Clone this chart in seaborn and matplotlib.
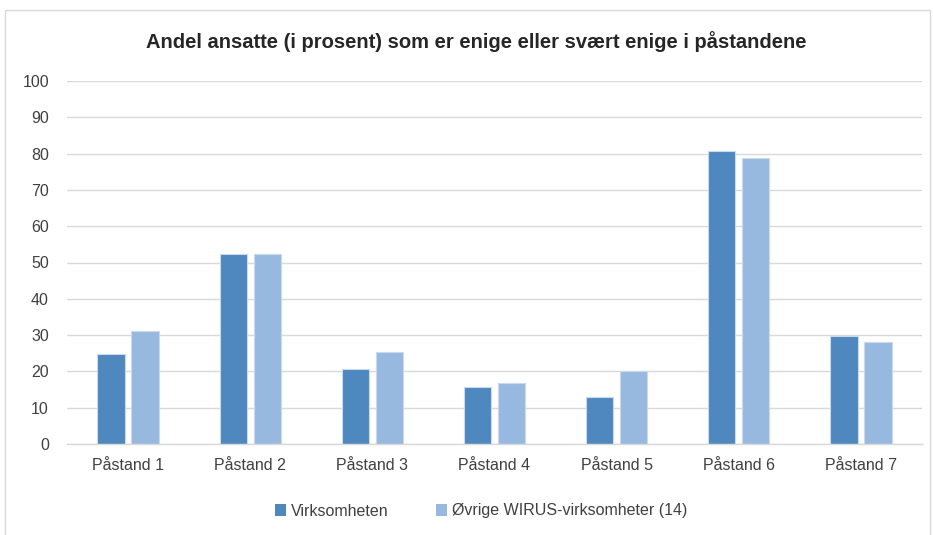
import pandas as pd
import matplotlib.pyplot as plt
import matplotlib.patches as mpatches
import seaborn as sns

categories = ['Påstand 1', 'Påstand 2', 'Påstand 3', 'Påstand 4', 'Påstand 5', 'Påstand 6', 'Påstand 7']
virksomheten = [24.8, 52.3, 20.6, 15.6, 13.0, 80.6, 29.7]
ovrige = [31.1, 52.3, 25.3, 16.9, 20.1, 78.8, 28.0]
series = ['Virksomheten', 'Øvrige WIRUS-virksomheter (14)']

df = pd.DataFrame({
    'Påstand': categories * 2,
    'Andel': virksomheten + ovrige,
    'Gruppe': [series[0]] * len(categories) + [series[1]] * len(categories),
})

sns.set_theme(style='white')
plt.rcParams['font.family'] = ['Liberation Sans', 'DejaVu Sans']

fig = plt.figure(figsize=(9.33, 5.35), dpi=100)
ax = fig.add_axes([67 / 933, 1 - 444 / 535, 855 / 933, 363 / 535])

palette = {series[0]: '#4F88BE', series[1]: '#98B9DF'}
sns.barplot(data=df, x='Påstand', y='Andel', hue='Gruppe', palette=palette,
            width=0.557, gap=0.2, saturation=1, ax=ax, legend=False)
for bar in ax.patches:
    bar.set_edgecolor('#C9DAEE')
    bar.set_linewidth(0.8)

ax.set_xlim(-0.5, 6.5)
ax.set_ylim(0, 100)
ax.set_yticks(range(0, 101, 10))
ax.yaxis.grid(True, color='#D9D9D9', linewidth=1)
ax.set_axisbelow(True)
for s in ['top', 'right', 'left']:
    ax.spines[s].set_visible(False)
ax.spines['bottom'].set_color('#D9D9D9')
ax.spines['bottom'].set_linewidth(1)
ax.tick_params(axis='both', length=0, labelsize=11.5, colors='#404040')
ax.tick_params(axis='x', pad=10)
ax.tick_params(axis='y', pad=13)
ax.set_xlabel('')
ax.set_ylabel('')

fig.text(476 / 933, 1 - 42 / 535, 'Andel ansatte (i prosent) som er enige eller svært enige i påstandene',
         ha='center', va='center', fontsize=14.5, fontweight='bold', color='#262626')

handles = [mpatches.Patch(facecolor=palette[s], edgecolor='none') for s in series]
fig.legend(handles, series, loc='center', bbox_to_anchor=(481 / 933, 1 - 511 / 535),
           ncol=2, frameon=False, fontsize=11.5, handlelength=0.7, handleheight=0.7,
           handletextpad=0.3, columnspacing=3.0, labelcolor='#404040')

fig.patches.append(mpatches.Rectangle((5 / 933, -0.05), 925 / 933, 1 - 10 / 535 + 0.05,
                                      transform=fig.transFigure, fill=False,
                                      edgecolor='#D9D9D9', linewidth=1))

fig.savefig('out.png', dpi=100)
